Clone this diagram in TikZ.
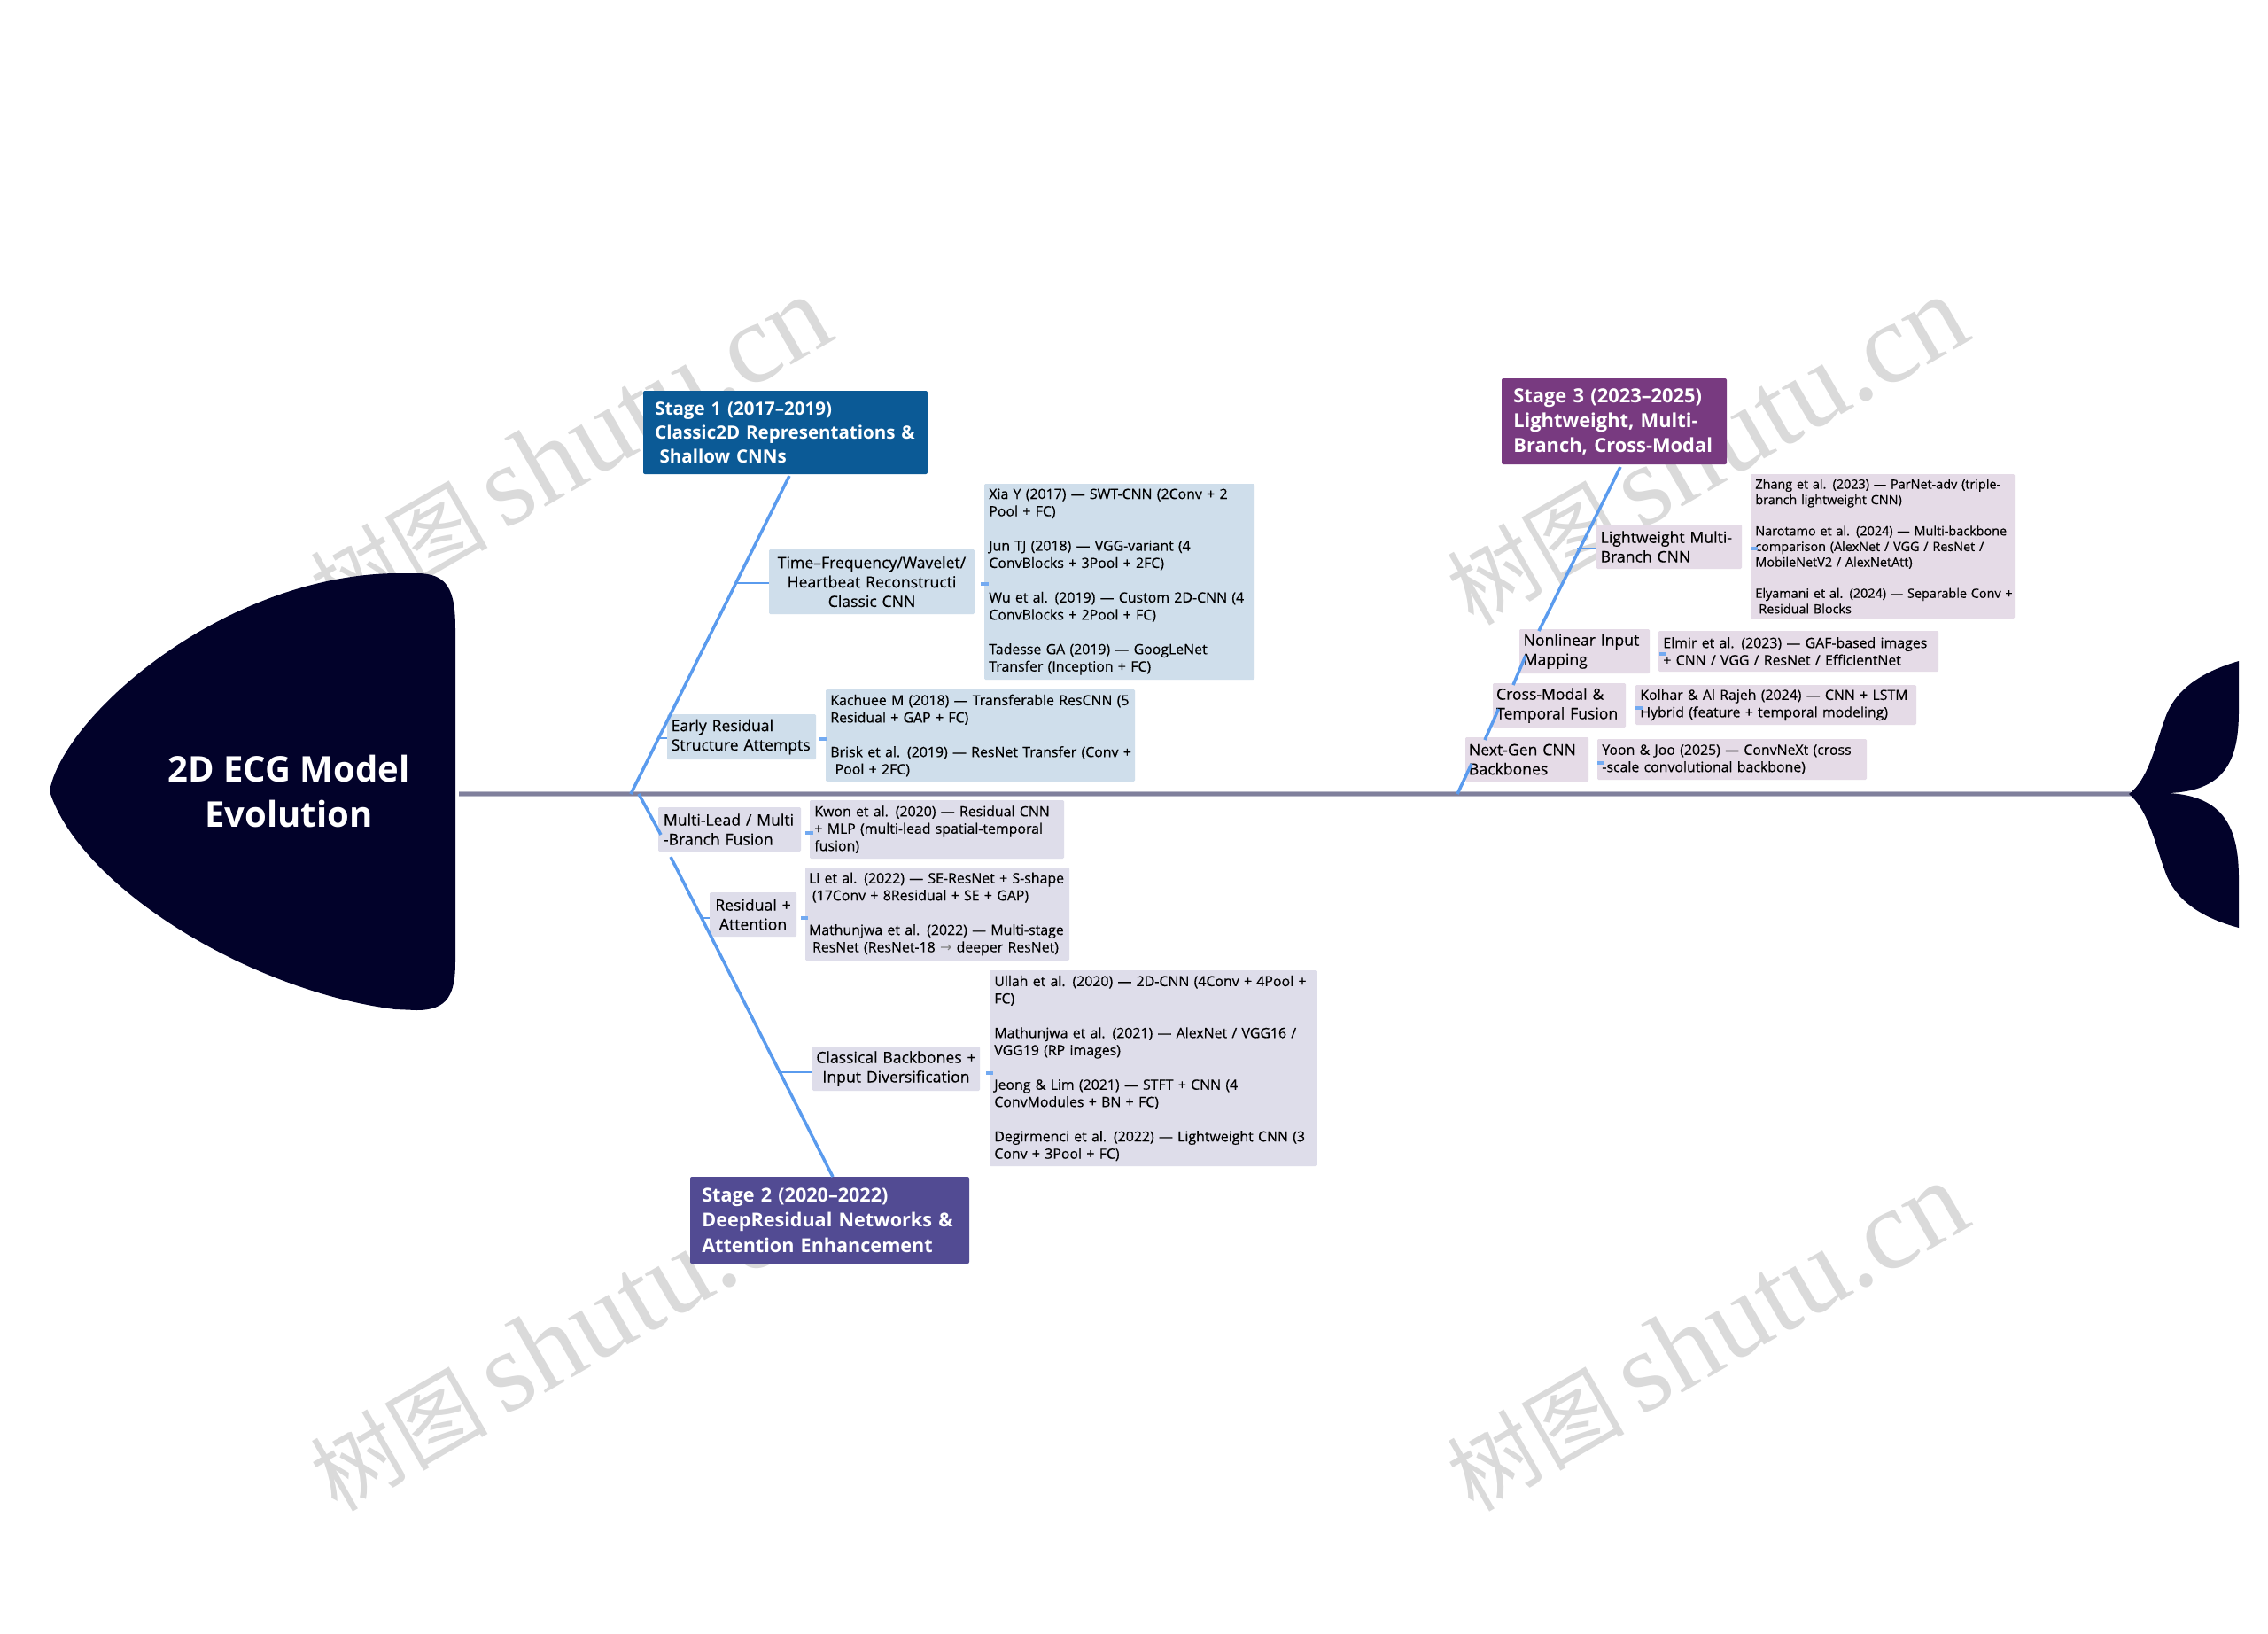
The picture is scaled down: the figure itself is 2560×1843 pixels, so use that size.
\documentclass[tikz,border=0pt]{standalone}
\usepackage{fontspec}
\setmainfont{Open Sans}
\newfontfamily\semi[FakeBold=0.45]{Open Sans}
\newfontfamily\wmfont{Liberation Serif}
\newfontfamily\wmcjk{Noto Sans CJK SC}
\newfontfamily\arrowfont{DejaVu Sans}
\definecolor{headc}{HTML}{02022A}
\definecolor{sOne}{HTML}{0B5A96}
\definecolor{sTwo}{HTML}{524B93}
\definecolor{sThree}{HTML}{783A80}
\definecolor{bOne}{HTML}{CFDEEB}
\definecolor{bTwo}{HTML}{DEDDEA}
\definecolor{bThree}{HTML}{E5DBE7}
\definecolor{bone}{HTML}{5A9BEE}
\definecolor{spinec}{HTML}{80809C}
\definecolor{wmc}{HTML}{DADADA}
\tikzset{
  stageOne/.style={fill=sOne,text=white,rounded corners=1.5pt,font={\fontsize{15.4}{20}\selectfont\bfseries}},
  stageTwo/.style={fill=sTwo,text=white,rounded corners=1.5pt,font={\fontsize{16.2}{21.3}\selectfont\bfseries}},
  stageThree/.style={fill=sThree,text=white,rounded corners=1.5pt,font={\fontsize{16.4}{21}\selectfont\bfseries}},
  midbox/.style={rounded corners=1pt,font={\semi\fontsize{13.2}{16.4}\selectfont}},
  leafbox/.style={rounded corners=1pt,font={\semi\fontsize{11.9}{14.6}\selectfont}},
  tinybox/.style={rounded corners=1pt,font={\semi\fontsize{10.8}{13.2}\selectfont}},
  bonel/.style={draw=bone,line width=2.6pt},
  branchl/.style={draw=bone,line width=2.2pt},
  stubl/.style={draw=bone!85!white,line width=2.4pt},
  wmark/.style={text=wmc,rotate=30,inner sep=0pt}
}
\newcommand\lft[1][4pt]{\leftskip=#1\rightskip=-60pt plus 1fil\parfillskip=0pt plus 1fil\relax}
\newcommand\ctr{\leftskip=-60pt plus 1fil\rightskip=-60pt plus 1fil\parfillskip=0pt\relax}
\newcommand\bx[7]{%
  \pgfmathsetlengthmacro\bw{(#4-#2)*0.75pt}%
  \pgfmathsetlengthmacro\bh{(#5-#3)*0.75pt}%
  \node[#6,minimum width=\bw,minimum height=\bh,text width=\bw,inner xsep=0pt,inner ysep=0pt,anchor=center] (#1) at ({(#2+#4)/2},{(#3+#5)/2}) {#7\par};}
\newcommand\gp{\\[14.6pt]}
\newcommand\gq{\\[13.2pt]}
\newcommand\wmtext{{\wmcjk\fontsize{75}{80}\selectfont 树图}\hspace{14pt}{\wmfont\fontsize{97}{100}\selectfont shutu.cn}}
\begin{document}
\begin{tikzpicture}[x=0.75pt,y=-0.75pt]
\useasboundingbox (0,0) rectangle (2560,1843);
\fill[white] (0,0) rectangle (2560,1843);
% watermarks
\node[wmark] (wa) at (643,509) {\wmtext};
\node[wmark] (wb) at (1926,509) {\wmtext};
\node[wmark] (wc) at (643,1509) {\wmtext};
\node[wmark] (wd) at (1926,1509) {\wmtext};
% spine
\coordinate (spineL) at (518,896);
\coordinate (spineR) at (2405,896);
\draw[spinec!55!white,line width=4pt] (spineL) -- (spineR);
\draw[spinec,line width=2.4pt] (spineL) -- (spineR);
% head
\fill[headc] (56,893) .. controls (70,810) and (250,650) .. (446,647) -- (470,647)
  .. controls (505,647) and (514,665) .. (514,710) -- (514,1085)
  .. controls (514,1123) and (505,1140) .. (470,1140) -- (446,1139)
  .. controls (280,1118) and (90,1000) .. (56,893) -- cycle;
\node[text=white,align=center,font={\fontsize{30}{38.5}\selectfont\bfseries},inner sep=0pt] (head) at (326,893) {2D ECG Model\\Evolution};
% tail
\fill[headc] (2403,896) .. controls (2425,880) and (2433,840) .. (2443,813)
  .. controls (2455,775) and (2490,757) .. (2527,746) -- (2527,803)
  .. controls (2527,860) and (2510,893) .. (2447,895)
  .. controls (2510,898) and (2527,934) .. (2527,991) -- (2527,1047)
  .. controls (2490,1037) and (2455,1019) .. (2443,981)
  .. controls (2433,954) and (2425,914) .. (2403,896) -- cycle;
% stages
\bx{stageA}{726}{441}{1047}{535}{stageOne}{\lft[10pt]Stage 1 (2017–2019)\\Classic2D Representations \&\\\hspace*{4pt}Shallow CNNs}
\bx{stageB}{779}{1328}{1094}{1426}{stageTwo}{\lft[10pt]Stage 2 (2020–2022)\\DeepResidual Networks \&\\Attention Enhancement}
\bx{stageC}{1695}{427}{1949}{524}{stageThree}{\lft[10pt]Stage 3 (2023–2025)\\Lightweight, Multi-\\Branch, Cross-Modal}
% stage 1 boxes
\bx{tf}{868}{620}{1100}{693}{midbox,fill=bOne}{\ctr Time–Frequency/Wavelet/\\Heartbeat Reconstructi\\Classic CNN}
\bx{tfl}{1111}{546}{1416}{767}{leafbox,fill=bOne}{\lft Xia Y (2017) — SWT-CNN (2Conv + 2\\Pool + FC)\gp Jun TJ (2018) — VGG-variant (4\\ConvBlocks + 3Pool + 2FC)\gp Wu et al. (2019) — Custom 2D-CNN (4\\ConvBlocks + 2Pool + FC)\gp Tadesse GA (2019) — GoogLeNet\\Transfer (Inception + FC)}
\bx{er}{753}{806}{921}{857}{midbox,fill=bOne}{\lft[3.5pt]Early Residual\\Structure Attempts}
\bx{erl}{932}{778}{1281}{882}{leafbox,fill=bOne}{\lft Kachuee M (2018) — Transferable ResCNN (5\\Residual + GAP + FC)\gp Brisk et al. (2019) — ResNet Transfer (Conv +\\\hspace*{4pt}Pool + 2FC)}
% stage 2 boxes
\bx{ml}{743}{911}{904}{961}{midbox,fill=bTwo}{\lft[4.5pt]Multi-Lead / Multi\\-Branch Fusion}
\bx{mll}{914}{903}{1201}{969}{leafbox,fill=bTwo}{\lft Kwon et al. (2020) — Residual CNN\\+ MLP (multi-lead spatial-temporal\\fusion)}
\bx{ra}{801}{1007}{899}{1057}{midbox,fill=bTwo}{\ctr Residual +\\Attention}
\bx{ral}{909}{979}{1207}{1084}{leafbox,fill=bTwo}{\lft[3pt]Li et al. (2022) — SE-ResNet + S-shape\\\hspace*{3pt}(17Conv + 8Residual + SE + GAP)\gp Mathunjwa et al. (2022) — Multi-stage\\\hspace*{3pt}ResNet (ResNet-18 {\arrowfont\textcolor{gray}{→}} deeper ResNet)}
\bx{cb}{917}{1181}{1106}{1231}{midbox,fill=bTwo}{\ctr Classical Backbones +\\Input Diversification}
\bx{cbl}{1117}{1095}{1486}{1316}{leafbox,fill=bTwo}{\lft Ullah et al. (2020) — 2D-CNN (4Conv + 4Pool +\\FC)\gp Mathunjwa et al. (2021) — AlexNet / VGG16 /\\VGG19 (RP images)\gp Jeong \& Lim (2021) — STFT + CNN (4\\ConvModules + BN + FC)\gp Degirmenci et al. (2022) — Lightweight CNN (3\\Conv + 3Pool + FC)}
% stage 3 boxes
\bx{lw}{1802}{592}{1966}{642}{midbox,fill=bThree}{\lft[3.5pt]Lightweight Multi-\\Branch CNN}
\bx{lwl}{1976}{535}{2274}{698}{tinybox,fill=bThree}{\lft Zhang et al. (2023) — ParNet-adv (triple-\\branch lightweight CNN)\gq Narotamo et al. (2024) — Multi-backbone\\comparison (AlexNet / VGG / ResNet /\\MobileNetV2 / AlexNetAtt)\gq Elyamani et al. (2024) — Separable Conv +\\\hspace*{3pt}Residual Blocks}
\bx{nl}{1715}{710}{1862}{760}{midbox,fill=bThree}{\lft[3.5pt]Nonlinear Input\\Mapping}
\bx{nll}{1872}{712}{2188}{758}{leafbox,fill=bThree}{\lft Elmir et al. (2023) — GAF-based images\\+ CNN / VGG / ResNet / EfficientNet}
\bx{cm}{1685}{771}{1835}{821}{midbox,fill=bThree}{\lft[3pt]Cross-Modal \&\\Temporal Fusion}
\bx{cml}{1846}{773}{2163}{818}{leafbox,fill=bThree}{\lft Kolhar \& Al Rajeh (2024) — CNN + LSTM\\Hybrid (feature + temporal modeling)}
\bx{ng}{1654}{832}{1793}{882}{midbox,fill=bThree}{\lft[3pt]Next-Gen CNN\\Backbones}
\bx{ngl}{1803}{834}{2107}{880}{leafbox,fill=bThree}{\lft Yoon \& Joo (2025) — ConvNeXt (cross\\-scale convolutional backbone)}
% stage 1 bones
\coordinate (aT) at (891,537);
\coordinate (aB) at (712,896);
\coordinate (jtf) at (830,658);
\coordinate (jer) at (743,833);
\draw[bonel] (aT) -- (aB);
\draw[branchl] (jtf) -- (tf.west |- jtf);
\draw[branchl] (jer) -- (er.west |- jer);
% stage 2 bones
\coordinate (bT) at (721,896);
\coordinate (bM) at (746,942);
\coordinate (bN) at (757,967);
\coordinate (bB) at (940,1328);
\coordinate (jra) at (791,1036);
\coordinate (jcb) at (878,1210);
\draw[bonel] (bT) -- (bM);
\draw[bonel] (bN) -- (bB);
\draw[branchl] (jra) -- (ra.west |- jra);
\draw[branchl] (jcb) -- (cb.west |- jcb);
% stage 3 bones
\coordinate (c0) at (1829,527);
\coordinate (c1) at (1737,712);
\coordinate (c2) at (1722,740);
\coordinate (c3) at (1708,773);
\coordinate (c4) at (1691.5,800);
\coordinate (c5) at (1676,835);
\coordinate (c6) at (1661,862);
\coordinate (c7) at (1645,896);
\coordinate (jlw) at (1780,619);
\draw[bonel] (c0) -- (c1);
\draw[bonel] (c2) -- (c3);
\draw[bonel] (c4) -- (c5);
\draw[bonel] (c6) -- (c7);
\draw[branchl] (jlw) -- (lw.west |- jlw);
% stubs
\coordinate (sa) at (1107,659); \draw[stubl] (sa) -- ++(9,0);
\coordinate (sb) at (925,834); \draw[stubl] (sb) -- ++(9,0);
\coordinate (sc) at (909,940); \draw[stubl] (sc) -- ++(9,0);
\coordinate (sd) at (904,1036); \draw[stubl] (sd) -- ++(8,0);
\coordinate (se) at (1113,1211); \draw[stubl] (se) -- ++(8,0);
\coordinate (sf) at (1976,619); \draw[stubl] (sf) -- ++(8,0);
\coordinate (sg) at (1873,738); \draw[stubl] (sg) -- ++(7,0);
\coordinate (sh) at (1846,799); \draw[stubl] (sh) -- ++(8,0);
\coordinate (si) at (1803,861); \draw[stubl] (si) -- ++(7,0);
\end{tikzpicture}
\end{document}
